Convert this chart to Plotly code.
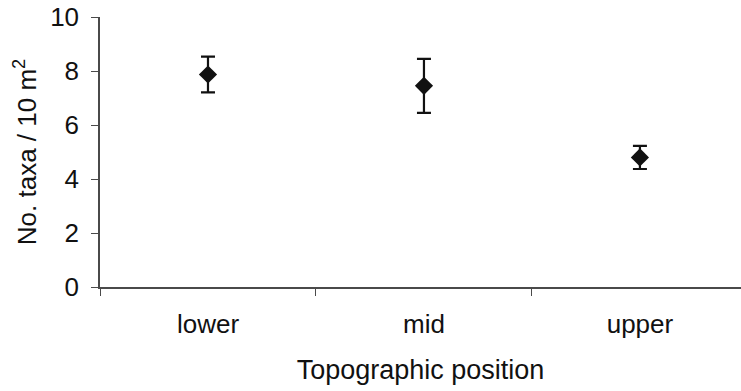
import plotly.graph_objects as go

# Mean number of taxa per 10 m^2 at each topographic position, with error
positions = ["lower", "mid", "upper"]
mean_taxa = [7.87, 7.45, 4.80]
err_taxa = [0.66, 1.00, 0.43]

FONT = "Liberation Sans, Arial, sans-serif"
AXIS_COLOR = "#4a4a4a"

fig = go.Figure()
fig.add_trace(
    go.Scatter(
        x=positions,
        y=mean_taxa,
        mode="markers",
        marker=dict(symbol="diamond", size=14, color="#111111"),
        error_y=dict(
            type="data",
            array=err_taxa,
            symmetric=True,
            color="#111111",
            thickness=2.2,
            width=7,
        ),
        showlegend=False,
    )
)

fig.update_layout(
    width=741,
    height=391,
    margin=dict(l=100, r=0, t=17, b=104),
    paper_bgcolor="white",
    plot_bgcolor="white",
    font=dict(family=FONT, size=26, color="#111111"),
)

fig.update_xaxes(
    type="category",
    range=[-0.5, 2.468],
    showline=True,
    linecolor=AXIS_COLOR,
    linewidth=1.5,
    showgrid=False,
    zeroline=False,
    ticks="outside",
    tickson="boundaries",
    ticklen=7,
    tickcolor=AXIS_COLOR,
    tickwidth=1.2,
    ticklabelstandoff=13,
    tickfont=dict(size=26),
    title=dict(text="Topographic position", font=dict(size=27), standoff=22),
)

fig.update_yaxes(
    range=[0, 10],
    tickvals=[0, 2, 4, 6, 8, 10],
    showline=True,
    linecolor=AXIS_COLOR,
    linewidth=1.5,
    showgrid=False,
    zeroline=False,
    ticks="outside",
    ticklen=7,
    tickcolor=AXIS_COLOR,
    tickwidth=1.2,
    ticklabelstandoff=7,
    tickfont=dict(size=26),
    title=dict(text="No. taxa / 10 m<sup>2</sup>", font=dict(size=26), standoff=6),
)

fig.write_html("out.html")
